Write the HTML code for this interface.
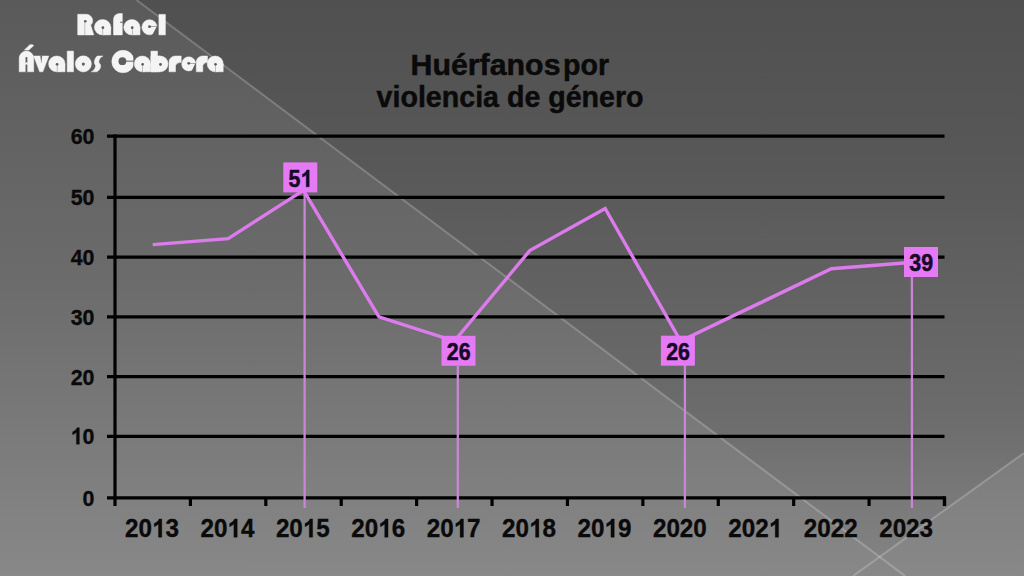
<!DOCTYPE html>
<html><head><meta charset="utf-8">
<style>
html,body{margin:0;padding:0;width:1024px;height:576px;overflow:hidden;background:#6a6a6a;}
svg{display:block;position:absolute;left:0;top:0;}
text{font-family:"Liberation Sans",sans-serif;font-weight:bold;}
</style></head>
<body>
<svg width="1024" height="576" viewBox="0 0 1024 576">
<defs>
<linearGradient id="bg" x1="0" y1="0" x2="0" y2="1">
<stop offset="0" stop-color="#5a5a5a"/><stop offset="0.5" stop-color="#6c6c6c"/><stop offset="1" stop-color="#888888"/></linearGradient>
<linearGradient id="tri" x1="0" y1="0" x2="0" y2="1">
<stop offset="0" stop-color="#505050"/><stop offset="0.3" stop-color="#585858"/><stop offset="0.75" stop-color="#6c6c6c"/><stop offset="1" stop-color="#828282"/></linearGradient>
</defs>
<rect x="0" y="0" width="1024" height="576" fill="url(#bg)"/>
<polygon points="136.5,0 1024,0 1024,453 879.6,556.8" fill="url(#tri)"/>
<line x1="136.5" y1="0" x2="905.2" y2="576" stroke="#ffffff" stroke-opacity="0.21" stroke-width="2.0"/>
<line x1="853" y1="576" x2="1024" y2="453" stroke="#ffffff" stroke-opacity="0.21" stroke-width="2.0"/>
<mask id="amask" maskUnits="userSpaceOnUse" x="0" y="0" width="260" height="90"><g stroke="#fff" stroke-width="0.5" stroke-linejoin="round"><path d="M77.70,34.90 L77.70,14.30 L86.30,14.30 A6.4,6.4 0 0 1 92.70,20.70 Q92.70,23.60 90.70,25.10 L93.80,34.90 Z" fill="#fff"/><circle cx="85.30" cy="21.30" r="1.30" fill="#000" stroke="none"/><rect x="84.75" y="21.30" width="0.35" height="14.10" fill="#000" stroke="none"/><ellipse cx="102.60" cy="27.25" rx="8.20" ry="7.65" fill="#fff"/><rect x="102.60" y="27.25" width="8.20" height="7.65" fill="#fff"/><circle cx="102.90" cy="27.65" r="1.35" fill="#000" stroke="none"/><rect x="102.72" y="27.65" width="0.36" height="7.75" fill="#000" stroke="none"/><path d="M113.50,34.90 L113.50,19.50 A6.0,6.0 0 0 1 119.50,13.50 L122.30,13.50 L122.30,34.90 Z" fill="#fff"/><rect x="120.10" y="21.70" width="2.70" height="1.00" fill="#000" stroke="none"/><ellipse cx="131.90" cy="27.25" rx="8.10" ry="7.65" fill="#fff"/><rect x="131.90" y="27.25" width="8.10" height="7.65" fill="#fff"/><circle cx="132.20" cy="27.65" r="1.35" fill="#000" stroke="none"/><rect x="132.02" y="27.65" width="0.36" height="7.75" fill="#000" stroke="none"/><circle cx="149.50" cy="27.25" r="7.60" fill="#fff"/><circle cx="149.50" cy="26.65" r="1.40" fill="#000" stroke="none"/><rect x="149.50" y="26.40" width="8.10" height="0.50" fill="#000" stroke="none"/><path d="M156.50,26.90 L158.10,26.90 L158.10,35.90 L151.70,35.90 Z" fill="#000" stroke="none"/><rect x="158.90" y="14.40" width="6.50" height="20.50" fill="#fff"/><path d="M19.20,71.80 L19.20,58.35 A7.25,7.25 0 0 1 33.70,58.35 L33.70,71.80 Z" fill="#fff"/><rect x="25.55" y="57.10" width="1.80" height="15.20" fill="#000" stroke="none"/><rect x="25.25" y="62.70" width="2.40" height="1.60" fill="#fff"/><path d="M24.40,50.10 L28.80,50.10 L33.60,45.70 Q33.20,44.50 31.80,44.70 L29.80,44.70 Z" fill="#fff"/><path d="M33.70,56.00 L48.80,56.00 L42.85,71.80 L39.65,71.80 Z" fill="#fff"/><path d="M40.35,55.50 L42.15,55.50 L41.25,63.50 Z" fill="#000" stroke="none"/><ellipse cx="56.80" cy="63.90" rx="8.20" ry="7.90" fill="#fff"/><rect x="56.80" y="63.90" width="8.20" height="7.90" fill="#fff"/><circle cx="57.10" cy="64.30" r="1.35" fill="#000" stroke="none"/><rect x="56.92" y="64.30" width="0.36" height="8.00" fill="#000" stroke="none"/><rect x="67.20" y="51.10" width="6.30" height="20.70" fill="#fff"/><circle cx="83.35" cy="63.90" r="8.05" fill="#fff"/><circle cx="83.35" cy="64.10" r="1.55" fill="#000" stroke="none"/><path d="M91.40,71.80 L96.90,71.80 C100.90,69.30 101.90,65.30 99.20,63.00 C98.20,61.30 99.90,57.20 103.00,56.00 L97.20,56.00 C94.90,58.50 93.20,62.50 95.20,64.80 C96.20,66.50 94.60,70.30 91.40,71.80 Z" fill="#fff"/><clipPath id="cclip"><rect x="110.80" y="49.30" width="22.50" height="24.50"/></clipPath><circle cx="123.05" cy="61.55" r="11.25" fill="#fff" clip-path="url(#cclip)"/><circle cx="122.40" cy="61.20" r="3.90" fill="#000" stroke="none"/><rect x="122.40" y="60.65" width="11.90" height="1.00" fill="#000" stroke="none"/><ellipse cx="142.35" cy="63.90" rx="8.05" ry="7.90" fill="#fff"/><rect x="142.35" y="63.90" width="8.05" height="7.90" fill="#fff"/><circle cx="142.65" cy="64.30" r="1.35" fill="#000" stroke="none"/><rect x="142.47" y="64.30" width="0.36" height="8.00" fill="#000" stroke="none"/><rect x="150.90" y="51.10" width="6.60" height="20.70" fill="#fff"/><rect x="150.90" y="56.00" width="9.20" height="15.80" fill="#fff"/><circle cx="160.10" cy="63.90" r="7.90" fill="#fff"/><circle cx="160.50" cy="64.50" r="1.45" fill="#000" stroke="none"/><path d="M169.00,71.80 L169.00,62.20 A6.2,6.2 0 0 1 175.20,56.00 L181.20,56.00 L181.20,62.30 Q177.00,62.30 175.50,65.50 L175.50,71.80 Z" fill="#fff"/><circle cx="188.75" cy="63.90" r="7.05" fill="#fff"/><circle cx="188.75" cy="63.30" r="1.40" fill="#000" stroke="none"/><rect x="188.75" y="63.05" width="7.55" height="0.50" fill="#000" stroke="none"/><path d="M195.20,63.55 L196.80,63.55 L196.80,72.80 L190.95,72.80 Z" fill="#000" stroke="none"/><path d="M196.30,71.80 L196.30,62.20 A6.2,6.2 0 0 1 202.50,56.00 L207.50,56.00 L207.50,62.30 Q204.30,62.30 202.80,65.50 L202.80,71.80 Z" fill="#fff"/><ellipse cx="215.20" cy="63.90" rx="8.00" ry="7.90" fill="#fff"/><rect x="215.20" y="63.90" width="8.00" height="7.90" fill="#fff"/><circle cx="215.50" cy="64.30" r="1.35" fill="#000" stroke="none"/><rect x="215.32" y="64.30" width="0.36" height="8.00" fill="#000" stroke="none"/></g></mask><rect x="0" y="0" width="260" height="90" fill="#f4f4f4" mask="url(#amask)"/>
<g fill="#0a0a0a" stroke="#0a0a0a" stroke-width="0.5">
<text x="410.5" y="74.8" font-size="30" textLength="150" lengthAdjust="spacingAndGlyphs">Huérfanos</text>
<text x="563" y="74.8" font-size="30" textLength="46" lengthAdjust="spacingAndGlyphs">por</text>
<text x="510.1" y="107.3" text-anchor="middle" font-size="30" textLength="267" lengthAdjust="spacingAndGlyphs">violencia de género</text>
</g>
<g stroke="#000" stroke-width="3.2">
<line x1="107" y1="497.80" x2="944.50" y2="497.80"/>
<line x1="107" y1="436.40" x2="944.50" y2="436.40"/>
<line x1="107" y1="376.70" x2="944.50" y2="376.70"/>
<line x1="107" y1="316.90" x2="944.50" y2="316.90"/>
<line x1="107" y1="257.20" x2="944.50" y2="257.20"/>
<line x1="107" y1="197.40" x2="944.50" y2="197.40"/>
<line x1="107" y1="136.10" x2="944.50" y2="136.10"/>
<line x1="115.0" y1="134.50" x2="115.0" y2="506"/>
<line x1="190.41" y1="497.80" x2="190.41" y2="506"/>
<line x1="265.82" y1="497.80" x2="265.82" y2="506"/>
<line x1="341.23" y1="497.80" x2="341.23" y2="506"/>
<line x1="416.64" y1="497.80" x2="416.64" y2="506"/>
<line x1="492.05" y1="497.80" x2="492.05" y2="506"/>
<line x1="567.45" y1="497.80" x2="567.45" y2="506"/>
<line x1="642.86" y1="497.80" x2="642.86" y2="506"/>
<line x1="718.27" y1="497.80" x2="718.27" y2="506"/>
<line x1="793.68" y1="497.80" x2="793.68" y2="506"/>
<line x1="869.09" y1="497.80" x2="869.09" y2="506"/>
<line x1="944.50" y1="497.80" x2="944.50" y2="506"/>
<line x1="944.50" y1="496.20" x2="944.50" y2="506"/>
</g>
<g transform="translate(94.50,505.60) scale(0.93,1)" fill="#0a0a0a" stroke="#0a0a0a" stroke-width="0.35"><text x="-12.79" y="0" font-size="23">0</text></g>
<g transform="translate(94.50,444.20) scale(0.93,1)" fill="#0a0a0a" stroke="#0a0a0a" stroke-width="0.35"><path transform="translate(-25.58,0) scale(0.02300,-0.02300)" stroke-width="15.2" d="M405 0L268 0L268 516Q193 446 91 412L91 536Q145 554 208 603Q271 652 294 716L405 716Z"/><text x="-12.79" y="0" font-size="23">0</text></g>
<g transform="translate(94.50,384.50) scale(0.93,1)" fill="#0a0a0a" stroke="#0a0a0a" stroke-width="0.35"><text x="-25.58" y="0" font-size="23">2</text><text x="-12.79" y="0" font-size="23">0</text></g>
<g transform="translate(94.50,324.70) scale(0.93,1)" fill="#0a0a0a" stroke="#0a0a0a" stroke-width="0.35"><text x="-25.58" y="0" font-size="23">3</text><text x="-12.79" y="0" font-size="23">0</text></g>
<g transform="translate(94.50,265.00) scale(0.93,1)" fill="#0a0a0a" stroke="#0a0a0a" stroke-width="0.35"><text x="-25.58" y="0" font-size="23">4</text><text x="-12.79" y="0" font-size="23">0</text></g>
<g transform="translate(94.50,205.20) scale(0.93,1)" fill="#0a0a0a" stroke="#0a0a0a" stroke-width="0.35"><text x="-25.58" y="0" font-size="23">5</text><text x="-12.79" y="0" font-size="23">0</text></g>
<g transform="translate(94.50,143.90) scale(0.93,1)" fill="#0a0a0a" stroke="#0a0a0a" stroke-width="0.35"><text x="-25.58" y="0" font-size="23">6</text><text x="-12.79" y="0" font-size="23">0</text></g>
<g transform="translate(152.00,537.20) scale(0.95,1)" fill="#0a0a0a" stroke="#0a0a0a" stroke-width="0.35"><text x="-28.36" y="0" font-size="25.5">2</text><text x="-14.18" y="0" font-size="25.5">0</text><path transform="translate(0.00,0) scale(0.02550,-0.02550)" stroke-width="13.7" d="M405 0L268 0L268 516Q193 446 91 412L91 536Q145 554 208 603Q271 652 294 716L405 716Z"/><text x="14.18" y="0" font-size="25.5">3</text></g>
<g transform="translate(227.41,537.20) scale(0.95,1)" fill="#0a0a0a" stroke="#0a0a0a" stroke-width="0.35"><text x="-28.36" y="0" font-size="25.5">2</text><text x="-14.18" y="0" font-size="25.5">0</text><path transform="translate(0.00,0) scale(0.02550,-0.02550)" stroke-width="13.7" d="M405 0L268 0L268 516Q193 446 91 412L91 536Q145 554 208 603Q271 652 294 716L405 716Z"/><text x="14.18" y="0" font-size="25.5">4</text></g>
<g transform="translate(302.82,537.20) scale(0.95,1)" fill="#0a0a0a" stroke="#0a0a0a" stroke-width="0.35"><text x="-28.36" y="0" font-size="25.5">2</text><text x="-14.18" y="0" font-size="25.5">0</text><path transform="translate(0.00,0) scale(0.02550,-0.02550)" stroke-width="13.7" d="M405 0L268 0L268 516Q193 446 91 412L91 536Q145 554 208 603Q271 652 294 716L405 716Z"/><text x="14.18" y="0" font-size="25.5">5</text></g>
<g transform="translate(378.23,537.20) scale(0.95,1)" fill="#0a0a0a" stroke="#0a0a0a" stroke-width="0.35"><text x="-28.36" y="0" font-size="25.5">2</text><text x="-14.18" y="0" font-size="25.5">0</text><path transform="translate(0.00,0) scale(0.02550,-0.02550)" stroke-width="13.7" d="M405 0L268 0L268 516Q193 446 91 412L91 536Q145 554 208 603Q271 652 294 716L405 716Z"/><text x="14.18" y="0" font-size="25.5">6</text></g>
<g transform="translate(453.64,537.20) scale(0.95,1)" fill="#0a0a0a" stroke="#0a0a0a" stroke-width="0.35"><text x="-28.36" y="0" font-size="25.5">2</text><text x="-14.18" y="0" font-size="25.5">0</text><path transform="translate(0.00,0) scale(0.02550,-0.02550)" stroke-width="13.7" d="M405 0L268 0L268 516Q193 446 91 412L91 536Q145 554 208 603Q271 652 294 716L405 716Z"/><text x="14.18" y="0" font-size="25.5">7</text></g>
<g transform="translate(529.05,537.20) scale(0.95,1)" fill="#0a0a0a" stroke="#0a0a0a" stroke-width="0.35"><text x="-28.36" y="0" font-size="25.5">2</text><text x="-14.18" y="0" font-size="25.5">0</text><path transform="translate(0.00,0) scale(0.02550,-0.02550)" stroke-width="13.7" d="M405 0L268 0L268 516Q193 446 91 412L91 536Q145 554 208 603Q271 652 294 716L405 716Z"/><text x="14.18" y="0" font-size="25.5">8</text></g>
<g transform="translate(604.46,537.20) scale(0.95,1)" fill="#0a0a0a" stroke="#0a0a0a" stroke-width="0.35"><text x="-28.36" y="0" font-size="25.5">2</text><text x="-14.18" y="0" font-size="25.5">0</text><path transform="translate(0.00,0) scale(0.02550,-0.02550)" stroke-width="13.7" d="M405 0L268 0L268 516Q193 446 91 412L91 536Q145 554 208 603Q271 652 294 716L405 716Z"/><text x="14.18" y="0" font-size="25.5">9</text></g>
<g transform="translate(679.87,537.20) scale(0.95,1)" fill="#0a0a0a" stroke="#0a0a0a" stroke-width="0.35"><text x="-28.36" y="0" font-size="25.5">2</text><text x="-14.18" y="0" font-size="25.5">0</text><text x="0.00" y="0" font-size="25.5">2</text><text x="14.18" y="0" font-size="25.5">0</text></g>
<g transform="translate(755.28,537.20) scale(0.95,1)" fill="#0a0a0a" stroke="#0a0a0a" stroke-width="0.35"><text x="-28.36" y="0" font-size="25.5">2</text><text x="-14.18" y="0" font-size="25.5">0</text><text x="0.00" y="0" font-size="25.5">2</text><path transform="translate(14.18,0) scale(0.02550,-0.02550)" stroke-width="13.7" d="M405 0L268 0L268 516Q193 446 91 412L91 536Q145 554 208 603Q271 652 294 716L405 716Z"/></g>
<g transform="translate(830.69,537.20) scale(0.95,1)" fill="#0a0a0a" stroke="#0a0a0a" stroke-width="0.35"><text x="-28.36" y="0" font-size="25.5">2</text><text x="-14.18" y="0" font-size="25.5">0</text><text x="0.00" y="0" font-size="25.5">2</text><text x="14.18" y="0" font-size="25.5">2</text></g>
<g transform="translate(906.10,537.20) scale(0.95,1)" fill="#0a0a0a" stroke="#0a0a0a" stroke-width="0.35"><text x="-28.36" y="0" font-size="25.5">2</text><text x="-14.18" y="0" font-size="25.5">0</text><text x="0.00" y="0" font-size="25.5">2</text><text x="14.18" y="0" font-size="25.5">3</text></g>
<g stroke="#c986d6" stroke-width="2.3">
<line x1="304.6" y1="192" x2="304.6" y2="508"/>
<line x1="457.8" y1="366" x2="457.8" y2="508"/>
<line x1="684.9" y1="365" x2="684.9" y2="508"/>
<line x1="911.9" y1="277" x2="911.9" y2="508"/>
</g>
<polyline fill="none" stroke="#dc7cec" stroke-width="3.4" stroke-linejoin="miter" points="152.70,244.61 228.11,238.58 303.52,190.36 378.93,316.95 454.34,341.06 529.75,250.64 605.16,208.44 680.57,341.06 755.98,304.89 831.39,268.72 906.80,262.70"/>
<rect x="283.3" y="162.4" width="34" height="30" fill="#e67af4"/>
<g transform="translate(300.50,186.80) scale(0.91,1)" fill="#150a28" stroke="#150a28" stroke-width="0.5"><text x="-13.07" y="0" font-size="23.5">5</text><path transform="translate(0.00,0) scale(0.02350,-0.02350)" stroke-width="21.3" d="M405 0L268 0L268 516Q193 446 91 412L91 536Q145 554 208 603Q271 652 294 716L405 716Z"/></g>
<rect x="441.5" y="335.8" width="34" height="30" fill="#e67af4"/>
<g transform="translate(458.70,360.20) scale(0.91,1)" fill="#150a28" stroke="#150a28" stroke-width="0.5"><text x="-13.07" y="0" font-size="23.5">2</text><text x="0.00" y="0" font-size="23.5">6</text></g>
<rect x="660.9" y="335.7" width="34" height="30" fill="#e67af4"/>
<g transform="translate(678.10,360.10) scale(0.91,1)" fill="#150a28" stroke="#150a28" stroke-width="0.5"><text x="-13.07" y="0" font-size="23.5">2</text><text x="0.00" y="0" font-size="23.5">6</text></g>
<rect x="904" y="247" width="34" height="30" fill="#e67af4"/>
<g transform="translate(921.20,271.40) scale(0.91,1)" fill="#150a28" stroke="#150a28" stroke-width="0.5"><text x="-13.07" y="0" font-size="23.5">3</text><text x="0.00" y="0" font-size="23.5">9</text></g>
</svg>
</body></html>
